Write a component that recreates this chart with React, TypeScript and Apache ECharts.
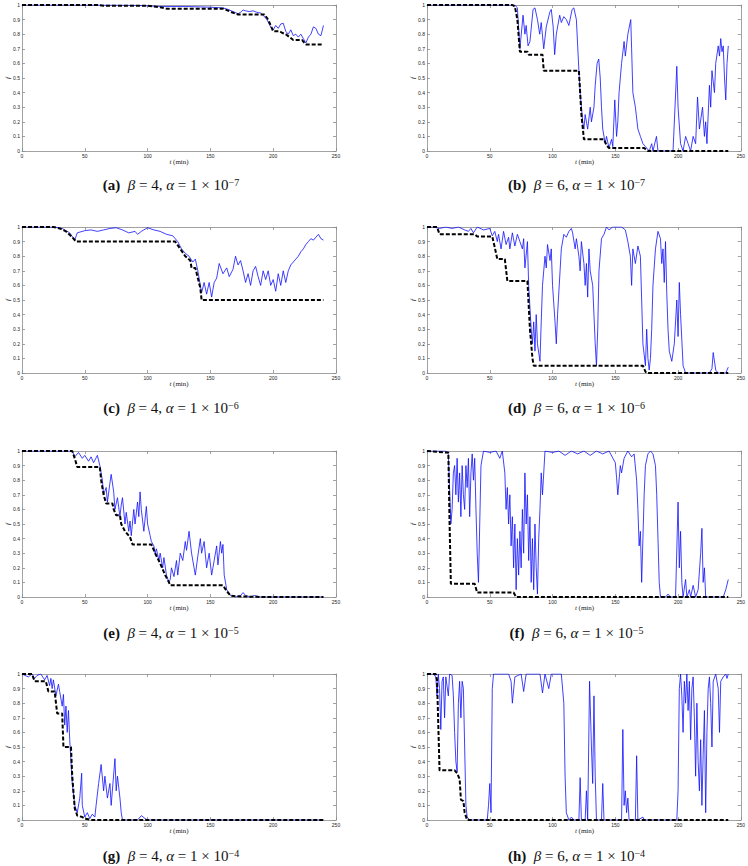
import React, { useEffect, useRef } from 'react';
import * as echarts from 'echarts';

const xTicks = [0, 50, 100, 150, 200, 250];
const yTicks = [0, 0.1, 0.2, 0.3, 0.4, 0.5, 0.6, 0.7, 0.8, 0.9, 1];
const letters = ['a', 'b', 'c', 'd', 'e', 'f', 'g', 'h'];
const betas = [4, 6, 4, 6, 4, 6, 4, 6];
const alphaExps = ['−7', '−7', '−6', '−6', '−5', '−5', '−4', '−4'];

const blueA = [[0,1],[60,1],[90,0.998],[110,0.99],[130,0.99],[150,0.985],[160,0.98],[164,0.97],[168,0.955],[172,0.94],[174,0.95],[176,0.966],[178,0.96],[181,0.955],[184,0.96],[187,0.95],[190,0.945],[192,0.93],[195,0.9],[198,0.85],[200,0.83],[202,0.86],[204,0.84],[206,0.87],[208,0.875],[210,0.82],[212,0.8],[214,0.83],[216,0.79],[218,0.8],[220,0.78],[222,0.8],[224,0.77],[226,0.74],[228,0.78],[230,0.8],[232,0.85],[234,0.84],[236,0.8],[238,0.79],[240,0.86]];
const blackA = [[0,1],[60,1],[65,0.995],[100,0.995],[110,0.985],[115,0.975],[160,0.975],[163,0.965],[167,0.95],[172,0.935],[193,0.935],[196,0.9],[198,0.86],[200,0.82],[205,0.82],[207,0.81],[210,0.8],[213,0.78],[216,0.76],[223,0.76],[226,0.73],[240,0.73]];

const blueB = [[0,1],[70,1],[72,0.98],[74,0.7],[76.5,0.93],[78,0.8],[79,0.86],[80.5,0.72],[82,0.75],[84.5,0.97],[86,0.98],[88,0.9],[89.8,0.8],[91,0.88],[93,0.7],[95,0.85],[97.8,0.95],[99,0.97],[100.5,0.85],[101.7,0.66],[103,0.8],[105.7,0.93],[107,0.88],[109,0.92],[111,0.9],[113,0.86],[115.6,0.97],[117,0.98],[119,0.9],[121,0.55],[122,0.4],[124,0.2],[125,0.15],[126,0.25],[128,0.15],[130,0.3],[131,0.2],[133,0.3],[134,0.45],[135.5,0.6],[136.8,0.63],[138,0.5],[139,0.3],[140,0.15],[142,0.05],[143,0.1],[145,0.02],[147,0.08],[148,0.03],[149.6,0.35],[151,0.1],[152,0.2],[153,0.4],[155,0.6],[157,0.75],[158,0.65],[160,0.8],[162.3,0.9],[163,0.7],[164,0.4],[166,0.3],[168,0.15],[170,0.1],[172,0.05],[174,0.03],[177,0],[179,0.05],[180,0],[182.8,0.1],[184,0],[196,0],[199,0.58],[200,0.3],[202,0.05],[204,0],[206,0.1],[208,0.05],[210,0],[212,0.1],[214,0.05],[215.5,0.37],[217,0.15],[219.5,0.3],[221,0.1],[222,0.2],[223,0.05],[225,0.45],[226,0.3],[227,0.55],[229,0.4],[230,0.6],[232,0.72],[233,0.65],[234,0.77],[235,0.68],[236,0.72],[237,0.5],[238,0.35],[239,0.6],[240,0.72]];
const blackB = [[0,1],[68,1],[70,0.99],[72,0.9],[74,0.68],[80,0.68],[81,0.66],[92,0.66],[93,0.55],[121,0.55],[123,0.25],[125,0.08],[141,0.08],[143,0.04],[145,0.02],[173,0.02],[176,0],[240,0]];

const blueC = [[0,1],[25,1],[32,0.99],[38,0.96],[42,0.91],[44,0.96],[50,0.975],[55,0.98],[60,0.97],[65,0.98],[70,0.99],[75,0.995],[80,0.98],[85,0.96],[90,0.97],[92,0.95],[95,0.97],[97,0.98],[100,0.995],[105,0.98],[110,0.97],[115,0.95],[120,0.94],[124,0.9],[127,0.85],[130,0.82],[133,0.8],[136,0.76],[138,0.78],[140,0.7],[143,0.55],[145,0.62],[147,0.54],[149,0.62],[151,0.52],[153,0.62],[155,0.65],[157,0.75],[160,0.68],[163,0.72],[165,0.66],[168,0.71],[170,0.8],[172,0.74],[174,0.77],[176,0.7],[178,0.62],[180,0.68],[182,0.6],[184,0.7],[186,0.73],[188,0.66],[190,0.6],[192,0.7],[194,0.64],[196,0.7],[198,0.6],[200,0.64],[202,0.56],[204,0.68],[206,0.6],[208,0.7],[210,0.62],[212,0.7],[214,0.74],[216,0.76],[218,0.78],[220,0.8],[222,0.83],[224,0.85],[226,0.88],[228,0.9],[230,0.92],[232,0.91],[234,0.93],[236,0.95],[238,0.92],[240,0.91]];
const blackC = [[0,1],[25,1],[30,0.99],[35,0.97],[40,0.93],[43,0.9],[122,0.9],[126,0.85],[130,0.8],[134,0.77],[135,0.72],[138,0.72],[140,0.65],[142,0.58],[143,0.5],[240,0.5]];

const blueD = [[0,1],[5,1],[10,0.99],[15,1],[20,0.99],[25,1],[30,0.98],[33,0.97],[35,0.99],[37,0.96],[40,1],[45,0.98],[50,0.99],[52,0.94],[54,0.97],[56,0.9],[57,0.95],[59,0.85],[61,0.97],[63,0.88],[65,0.93],[66,0.85],[68,0.96],[70,0.87],[72,0.95],[74,0.9],[76,0.85],[77,0.92],[78,0.72],[80,0.9],[81,0.6],[83,0.3],[84,0.2],[85,0.35],[86,0.15],[87,0.4],[88,0.2],[90,0.08],[91,0.35],[92,0.6],[94,0.8],[95,0.72],[96,0.88],[98,0.77],[99,0.85],[100,0.6],[102,0.35],[103,0.2],[104,0.4],[106,0.7],[107,0.85],[109,0.95],[111,0.93],[113,0.97],[115,0.99],[116,0.96],[118,0.85],[119,0.92],[121,0.8],[122,0.7],[123,0.9],[125,0.75],[126,0.6],[127,0.75],[128,0.52],[129,0.85],[130,0.7],[132,0.6],[134,0.2],[135,0.05],[136,0.3],[137,0.7],[139,0.92],[141,0.95],[143,1],[145,0.98],[148,1],[155,1],[158,0.98],[160,0.9],[162,0.8],[163,0.6],[164,0.85],[166,0.75],[168,0.87],[170,0.8],[171,0.5],[172,0.2],[174,0.05],[175,0.3],[176,0.1],[177,0.02],[178,0.1],[179,0.3],[180,0.6],[182,0.85],[184,0.97],[186,0.92],[187,0.75],[188,0.85],[189,0.62],[190,0.9],[191,0.55],[192,0.3],[193,0.15],[195,0.08],[197,0.2],[199,0.5],[200,0.25],[201,0.62],[202,0.4],[204,0.05],[206,0],[225,0],[227,0.03],[228,0.14],[230,0.02],[232,0],[238,0],[240,0.04]];
const blackD = [[0,1],[8,1],[10,0.95],[38,0.95],[40,0.935],[52,0.935],[54,0.86],[56,0.78],[62,0.78],[64,0.63],[80,0.63],[82,0.3],[84,0.1],[85,0.05],[172,0.05],[174,0.01],[175,0],[240,0]];

const blueE = [[0,1],[40,1],[42,0.96],[45,0.99],[48,0.95],[50,0.97],[53,0.93],[55,0.96],[57,0.92],[60,0.97],[62,0.9],[64,0.8],[65,0.7],[67,0.75],[68,0.65],[70,0.78],[71,0.84],[73,0.72],[74,0.6],[76,0.68],[78,0.55],[79,0.63],[80,0.68],[82,0.5],[83,0.58],[85,0.45],[86,0.52],[87,0.42],[89,0.6],[90,0.5],[92,0.65],[93,0.55],[94,0.72],[95,0.6],[97,0.45],[99,0.62],[100,0.5],[102,0.42],[103,0.38],[105,0.35],[106,0.3],[107,0.33],[109,0.25],[110,0.3],[112,0.2],[113,0.27],[115,0.15],[117,0.1],[118,0.12],[119,0.2],[121,0.14],[123,0.25],[124,0.15],[126,0.3],[128,0.25],[130,0.38],[131,0.32],[133,0.45],[135,0.3],[137,0.2],[138,0.15],[140,0.28],[142,0.4],[143,0.3],[145,0.38],[147,0.2],[149,0.3],[151,0.15],[153,0.25],[155,0.35],[156,0.22],[158,0.38],[159,0.3],[160,0.36],[161,0.15],[163,0.05],[166,0.01],[170,0],[174,0.01],[176,0.03],[178,0.01],[182,0],[185,0.01],[190,0],[240,0]];
const blackE = [[0,1],[40,1],[42,0.95],[44,0.89],[62,0.89],[63,0.8],[65,0.7],[67,0.64],[72,0.64],[73,0.6],[75,0.56],[78,0.56],[79,0.5],[82,0.45],[86,0.41],[88,0.36],[103,0.36],[106,0.3],[110,0.23],[114,0.15],[117,0.1],[118,0.08],[160,0.08],[163,0.04],[166,0.01],[170,0.005],[190,0],[240,0]];

const blueF = [[0,1],[15,1],[17,0.98],[19,0.5],[20,0.6],[21,0.85],[22,0.9],[23,0.7],[24,0.95],[25,0.65],[26,0.85],[27,0.55],[28,0.9],[29,0.7],[30,0.6],[31,0.9],[32,0.75],[33,0.95],[34,0.55],[35,0.85],[36,0.98],[37,0.8],[38,0.95],[39,0.6],[40,0.3],[41,0.1],[42,0.5],[43,0.9],[45,1],[50,0.99],[55,1],[58,0.95],[60,1],[62,0.85],[63,0.6],[64,0.75],[65,0.5],[66,0.7],[67,0.35],[68,0.55],[69,0.2],[70,0.5],[71,0.05],[72,0.4],[73,0.15],[74,0.45],[75,0.2],[76,0.6],[77,0.3],[78,0.85],[79,0.5],[80,0.7],[81,0.25],[82,0.55],[83,0.1],[84,0.4],[85,0.05],[86,0.5],[87,0.2],[88,0.02],[89,0.4],[90,0.6],[91,0.85],[92,0.7],[94,1],[100,0.99],[105,1],[110,0.97],[115,1],[120,0.98],[125,1],[130,0.97],[135,1],[140,0.98],[145,1],[150,0.92],[151,0.82],[152,0.7],[154,0.9],[155,0.85],[157,0.95],[160,1],[163,0.96],[165,0.98],[167,0.8],[168,0.6],[169,0.35],[170,0.45],[171,0.1],[172,0.4],[173,0.7],[174,0.9],[176,0.98],[178,1],[180,0.98],[182,0.9],[183,0.7],[184,0.4],[185,0.1],[186,0],[190,0],[192,0.02],[194,0],[198,0],[200,0.65],[201,0.2],[202,0.45],[203,0.1],[204,0],[206,0.12],[207,0],[209,0.05],[210,0],[212,0.08],[214,0],[216,0.05],[218,0.3],[219,0.47],[220,0.1],[221,0.2],[222,0],[236,0],[238,0.05],[240,0.12]];
const blackF = [[0,1],[15,0.99],[17,0.99],[18,0.5],[19,0.09],[38,0.09],[40,0.03],[69,0.03],[71,0],[240,0]];

const blueG = [[0,1],[5,0.98],[8,1],[10,0.97],[12,0.99],[15,1],[18,0.96],[20,0.99],[22,0.92],[23,0.97],[24,0.9],[25,0.96],[27,0.85],[29,0.93],[30,0.88],[32,0.78],[33,0.86],[34,0.65],[35,0.78],[36,0.6],[37,0.75],[38,0.55],[39,0.4],[40,0.25],[42,0.1],[44,0.05],[46,0.15],[47.5,0.32],[48,0.1],[50,0.02],[52,0.05],[54,0.01],[56,0.04],[58,0.02],[59,0.1],[61,0.25],[63,0.38],[65,0.2],[66,0.3],[68,0.15],[70,0.25],[71,0.1],[74,0.42],[75,0.2],[76,0.3],[78,0.15],[79,0.05],[80,0],[92,0],[95,0.03],[98,0.01],[100,0],[240,0]];
const blackG = [[0,1],[8,1],[10,0.95],[19,0.95],[21,0.88],[26,0.88],[28,0.73],[32,0.73],[33,0.5],[39,0.5],[40,0.3],[42,0.08],[44,0.03],[48,0.02],[50,0.01],[55,0],[240,0]];

const blueH = [[0,1],[5,1],[7,0.98],[8,0.85],[9,1],[10,0.9],[11,0.62],[12,0.95],[13,0.98],[14,0.7],[15,0.98],[17,0.85],[18,1],[20,0.99],[21,0.85],[22,0.6],[23,0.4],[24,0.33],[25,0.8],[26,0.95],[27,0.7],[28,0.95],[29,0.9],[30,0.5],[31,0.1],[32,0.02],[34,0],[48,0],[49,0.1],[50,0.25],[51,0.05],[52,0.9],[53,1],[65,1],[67,0.95],[68,0.8],[70,0.98],[75,1],[77,0.88],[79,1],[90,1],[92,0.87],[94,1],[97,0.9],[99,1],[107,1],[109,0.8],[110,0.3],[111,0.05],[113,0],[115,0.02],[117,0],[121,0],[122,0.29],[123,0],[126,0],[127,0.2],[128,0],[129.5,0.95],[131,0.5],[132,0.25],[133,0.85],[134,0.3],[135,0],[139,0],[140,0.25],[141,0],[155,0],[156,0.62],[157,0.1],[158,0.2],[159,0.05],[160,0.15],[161,0],[166,0],[167,0.44],[168,0],[172,0.02],[173,0],[199,0],[200,0.2],[201,0.9],[202,1],[203,0.85],[204,0.6],[205,0.95],[206,0.8],[207,1],[208,0.75],[209,0.95],[210,0.55],[211,0.9],[212,0.98],[213,0.7],[214,0.3],[215,0.8],[216,0.4],[217,0.2],[218,0.55],[219,0.1],[220,0.45],[221,0.75],[222,0.05],[223,0.6],[224,0.9],[225,0.98],[226,0.8],[227,0.5],[228,0.95],[230,1],[232,0.9],[233,0.6],[234,0.95],[236,0.98],[238,1],[239,0.97],[240,1]];
const blackH = [[0,1],[7,1],[8,0.96],[10,0.34],[22,0.34],[24,0.32],[26,0.28],[27,0.14],[29,0.13],[30,0.05],[32,0],[240,0]];

const blueSeries = [blueA, blueB, blueC, blueD, blueE, blueF, blueG, blueH];
const blackSeries = [blackA, blackB, blackC, blackD, blackE, blackF, blackG, blackH];

const layout = [
  { left: 22, top: 5, width: 314, height: 146 },
  { left: 427, top: 5, width: 315, height: 146 },
  { left: 22, top: 227, width: 314, height: 146 },
  { left: 427, top: 227, width: 315, height: 146 },
  { left: 22, top: 451, width: 314, height: 146 },
  { left: 427, top: 451, width: 315, height: 146 },
  { left: 22, top: 674, width: 314, height: 146 },
  { left: 427, top: 674, width: 315, height: 146 },
];
const captionY = [185, 185, 408, 408, 633, 633, 856, 856];
const SERIF = '"Liberation Serif", "DejaVu Serif", serif';

export default function App() {
  const ref = useRef<HTMLDivElement>(null);
  useEffect(() => {
    const chart = echarts.init(ref.current!, null, { renderer: 'svg' });
    const axisColor = '#8a8a8a';
    const xAxis: any[] = [];
    const yAxis: any[] = [];
    const series: any[] = [];
    const graphic: any[] = [];
    layout.forEach((l, i) => {
      const common = {
        type: 'value', gridIndex: i, splitLine: { show: false },
        axisLine: { show: true, onZero: false, lineStyle: { color: axisColor, width: 0.8 } },
        axisTick: { show: true, inside: true, length: 3, lineStyle: { color: axisColor, width: 0.8 } },
      };
      const lab = { fontSize: 5, color: '#222', fontFamily: 'Liberation Sans' };
      xAxis.push({ ...common, min: xTicks[0], max: xTicks[xTicks.length - 1], interval: 50, position: 'bottom',
        axisLabel: { ...lab, margin: 2 } });
      xAxis.push({ ...common, min: xTicks[0], max: xTicks[xTicks.length - 1], interval: 50, position: 'top',
        axisLabel: { show: false } });
      yAxis.push({ ...common, min: yTicks[0], max: yTicks[yTicks.length - 1], interval: 0.1, position: 'left',
        axisLabel: { ...lab, margin: 2, formatter: (v: number) => String(Math.round(v * 10) / 10) } });
      yAxis.push({ ...common, min: yTicks[0], max: yTicks[yTicks.length - 1], interval: 0.1, position: 'right',
        axisLabel: { show: false } });
      series.push({
        type: 'line', xAxisIndex: 2 * i, yAxisIndex: 2 * i, data: blueSeries[i], symbol: 'none',
        lineStyle: { color: '#1010ff', width: 0.8 }, z: 2,
      });
      series.push({
        type: 'line', xAxisIndex: 2 * i, yAxisIndex: 2 * i, data: blackSeries[i], symbol: 'none',
        lineStyle: { color: '#000', width: 2, type: [4, 2] }, z: 3,
      });
      const cx = l.left + l.width / 2;
      graphic.push({
        type: 'text', x: cx, y: l.top + l.height + 11,
        style: {
          text: '{i|t} {r|(min)}', align: 'center', verticalAlign: 'middle', fill: '#222',
          fontSize: 7, fontFamily: SERIF,
          rich: {
            i: { fontStyle: 'italic', fontSize: 7, fontFamily: SERIF },
            r: { fontSize: 7, fontFamily: SERIF },
          },
        },
      });
      graphic.push({
        type: 'text', x: l.left - 14, y: l.top + l.height / 2, rotation: Math.PI / 2,
        style: { text: 'f', align: 'center', verticalAlign: 'middle', fill: '#222',
          fontSize: 7, fontStyle: 'italic', fontFamily: SERIF },
      });
      graphic.push({
        type: 'text', x: cx - 8, y: captionY[i],
        style: {
          text: `{b|(${letters[i]})}{n|  }{i|β}{n| = ${betas[i]}, }{i|α}{n| = 1 × 10}{s|${alphaExps[i]}}`,
          align: 'center', verticalAlign: 'middle', fill: '#111',
          fontSize: 15, fontFamily: SERIF,
          rich: {
            b: { fontWeight: 'bold', fontSize: 15, fontFamily: SERIF },
            n: { fontSize: 15, fontFamily: SERIF },
            i: { fontStyle: 'italic', fontSize: 15, fontFamily: SERIF },
            s: { fontSize: 10, fontFamily: SERIF, verticalAlign: 'top', padding: [0, 0, 6, 0] },
          },
        },
      });
    });
    chart.setOption({
      animation: false,
      backgroundColor: '#fff',
      grid: layout.map((l) => ({ ...l, containLabel: false })),
      xAxis, yAxis, series, graphic,
    });
    return () => chart.dispose();
  }, []);
  return <div ref={ref} style={{ position: 'fixed', left: 0, top: 0, width: 748, height: 866 }} />;
}
